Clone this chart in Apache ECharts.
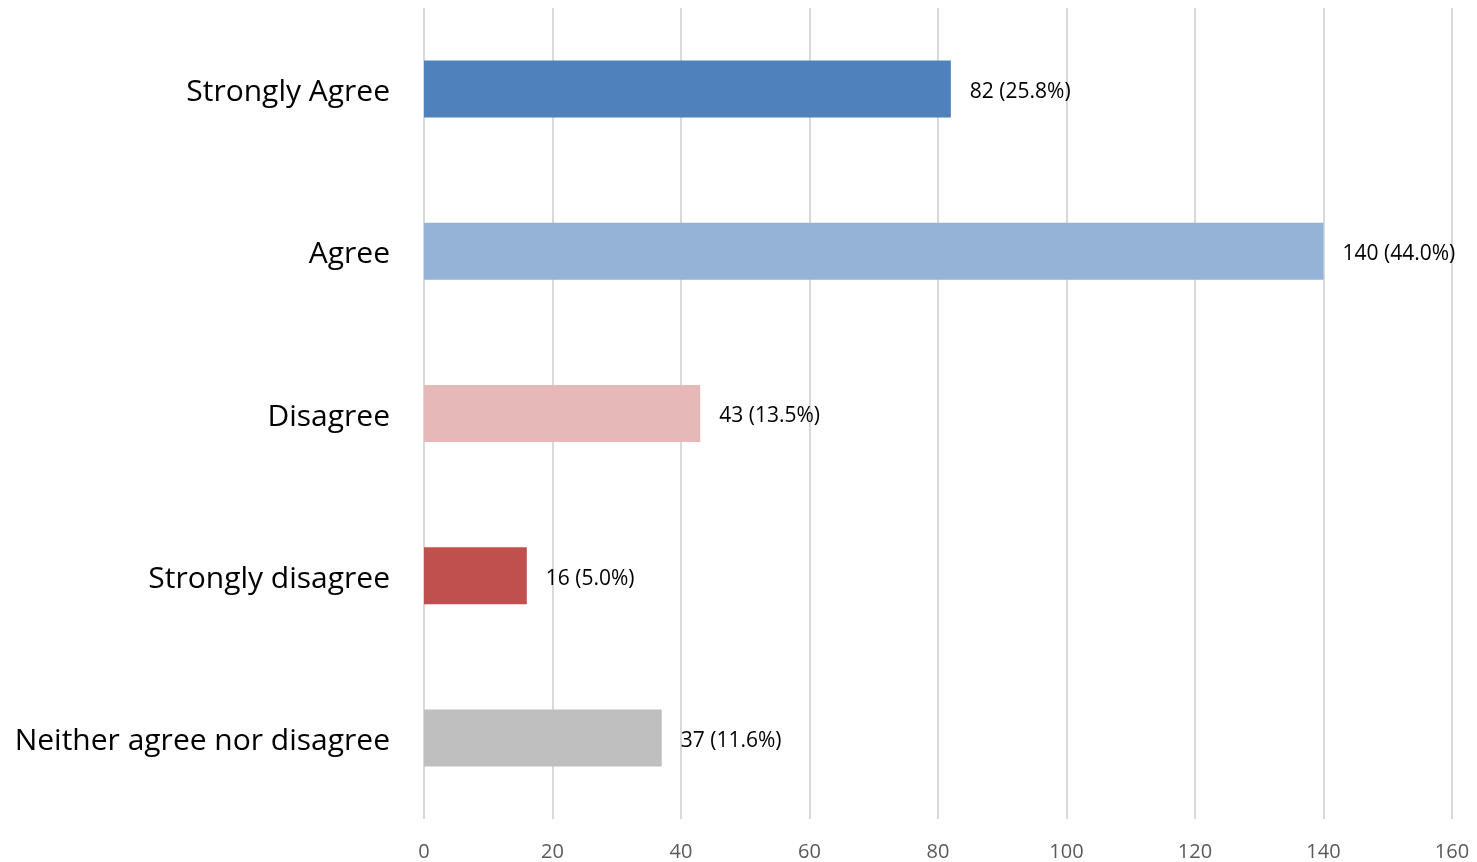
<!DOCTYPE html>
<html>
<head>
<meta charset="utf-8">
<script src="https://cdn.jsdelivr.net/npm/echarts@6/dist/echarts.min.js"></script>
<style>
html,body{margin:0;padding:0;background:#fff;}
#chart{width:1477px;height:862px;}
</style>
</head>
<body>
<div id="chart"></div>
<script>
const categories = ["Strongly Agree", "Agree", "Disagree", "Strongly disagree", "Neither agree nor disagree"];
const values = [82, 140, 43, 16, 37];
const percents = ["25.8%", "44.0%", "13.5%", "5.0%", "11.6%"];
const colors = ["#4F81BD", "#95B3D7", "#E6B9B8", "#C0504D", "#BFBFBF"];
const xTicks = { min: 0, max: 160, interval: 20 };

const font = "'Open Sans', 'Noto Sans', sans-serif";
const chart = echarts.init(document.getElementById('chart'));
chart.setOption({
  animation: false,
  backgroundColor: '#ffffff',
  grid: { left: 424, right: 25, top: 8, bottom: 42, containLabel: false },
  xAxis: {
    type: 'value',
    min: xTicks.min, max: xTicks.max, interval: xTicks.interval,
    axisLine: { show: false },
    axisTick: { show: false },
    splitLine: { show: true, lineStyle: { color: '#D9D9D9', width: 2 } },
    axisLabel: { color: '#595959', fontSize: 20, fontFamily: font, margin: 23 }
  },
  yAxis: {
    type: 'category',
    data: categories,
    inverse: true,
    axisLine: { show: false },
    axisTick: { show: false },
    splitLine: { show: false },
    axisLabel: {
      color: '#000000', fontSize: 30, fontFamily: font, margin: 34,
      formatter: v => '{c|' + v + '}',
      rich: { c: { color: '#000000', fontSize: 30, fontFamily: font, padding: [7, 0, 0, 0] } }
    }
  },
  series: [{
    type: 'bar',
    barWidth: 57,
    data: values.map((v, i) => ({ value: v, itemStyle: { color: colors[i] } })),
    label: {
      show: true,
      position: 'right',
      distance: 19,
      offset: [0, 3],
      color: '#000000',
      fontSize: 21,
      fontFamily: font,
      formatter: p => p.value + ' (' + percents[p.dataIndex] + ')'
    }
  }]
});
</script>
</body>
</html>
